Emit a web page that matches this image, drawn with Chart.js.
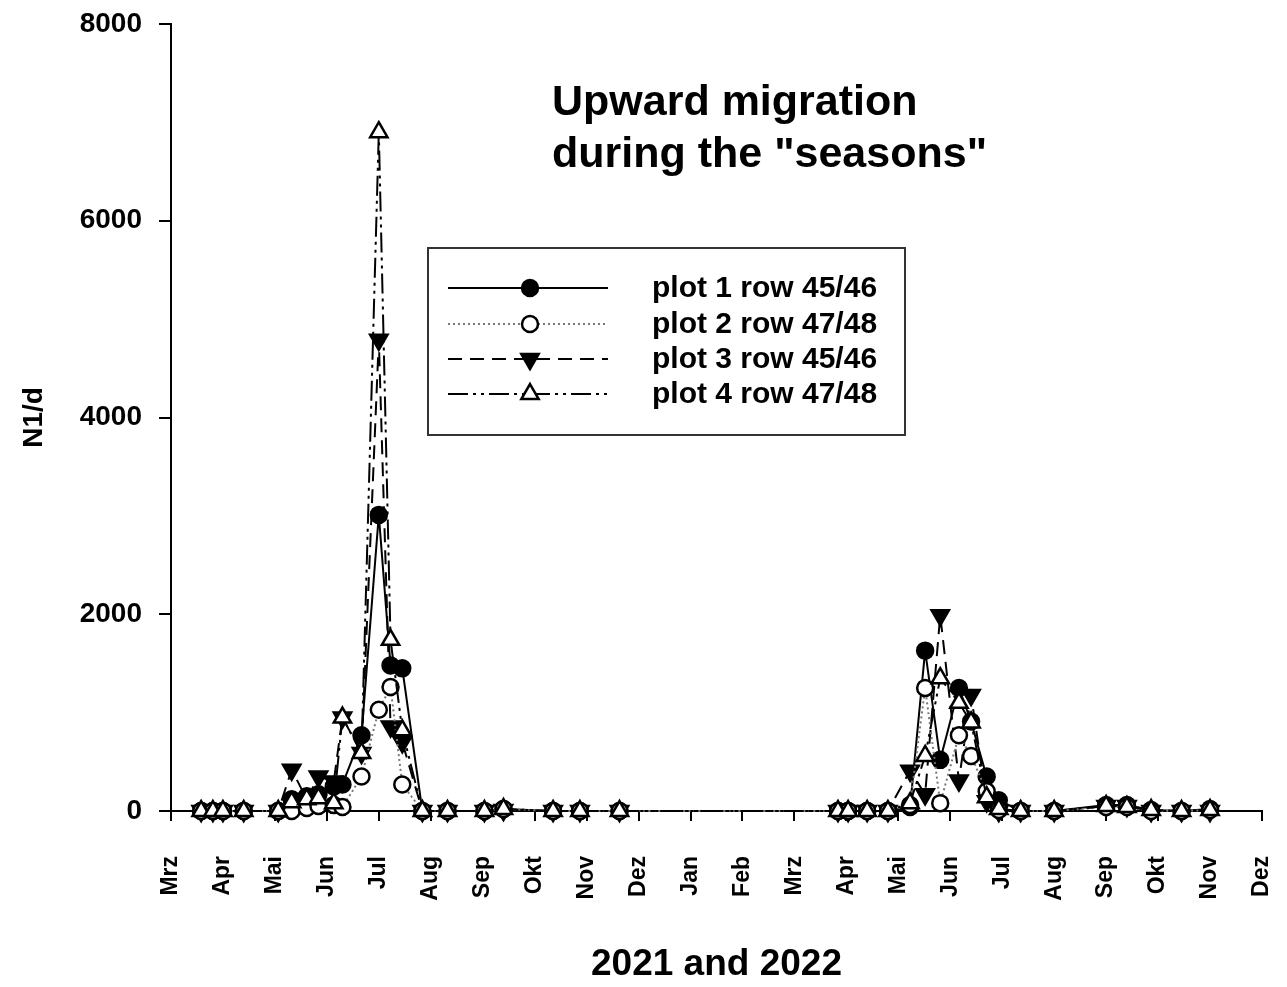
<!DOCTYPE html>
<html>
<head>
<meta charset="utf-8">
<title>Upward migration during the seasons</title>
<script src="https://cdn.jsdelivr.net/npm/chart.js@4.4.1/dist/chart.umd.min.js"></script>
<style>
  html, body { margin: 0; padding: 0; background: #fff; }
  #wrap { position: relative; width: 1287px; height: 987px; }
</style>
</head>
<body>
<div id="wrap"><canvas id="chart"></canvas></div>
<script>
'use strict';

// ── Data ────────────────────────────────────────────────────────────────
// One x tick per month, Mrz 2021 .. Dez 2022
const MONTH_LABELS = ['Mrz','Apr','Mai','Jun','Jul','Aug','Sep','Okt','Nov','Dez','Jan','Feb',
                      'Mrz','Apr','Mai','Jun','Jul','Aug','Sep','Okt','Nov','Dez'];
const Y_TICKS = [0, 2000, 4000, 6000, 8000];

const SERIES_LABELS = ['plot 1 row 45/46', 'plot 2 row 47/48', 'plot 3 row 45/46', 'plot 4 row 47/48'];

// sampling dates
const DATES_2021 = ['2021-03-19','2021-03-26','2021-04-01','2021-04-13','2021-05-03','2021-05-11',
                    '2021-05-20','2021-05-27','2021-06-05','2021-06-10','2021-06-21','2021-07-01',
                    '2021-07-08','2021-07-15','2021-07-27','2021-08-11','2021-09-02','2021-09-13',
                    '2021-10-12','2021-10-28','2021-11-20'];
const DATES_2022 = ['2022-03-27','2022-04-02','2022-04-13','2022-04-25','2022-05-08','2022-05-17',
                    '2022-05-26','2022-06-06','2022-06-13','2022-06-22','2022-06-29','2022-07-12',
                    '2022-08-01','2022-09-01','2022-09-13','2022-09-27','2022-10-15','2022-11-01'];

// N1/d per sampling date
const PLOT1_2021 = [0,0,0,0,0, 120,150,170,250,270, 770,3010,1480,1450, 0,0,0,20,0,0,0];
const PLOT2_2021 = [0,0,0,0,0, 0,30,50,60,40, 350,1030,1260,270, 0,0,0,20,0,0,0];
const PLOT3_2021 = [0,0,0,0,0, 420,120,350,300,950, 590,4790,860,700, 0,0,0,10,0,0,0];
const PLOT4_2021 = [0,0,0,0,0, 90,120,130,80,950, 590,6900,1740,820, 0,0,0,20,0,0,0];

const PLOT1_2022 = [0,0,0,0, 40,1630,520,1250,910,350,110, 0,0, 60,60,10,0,20];
const PLOT2_2022 = [0,0,0,0, 60,1250,80,770,560,200,10, 0,0, 40,40,0,0,10];
const PLOT3_2022 = [0,0,0,0, 410,170,1990,310,1180,100,0, 0,0, 50,50,0,0,0];
const PLOT4_2022 = [0,0,0,0, 80,560,1350,1100,900,140,20, 0,0, 50,40,10,0,10];

// ── Helpers ─────────────────────────────────────────────────────────────
const FONT = '"Liberation Sans", Arial, Helvetica, sans-serif';

// month position on the axis, 0 = 1 March 2021
function monthPos(iso) {
  const [y, m, d] = iso.split('-').map(Number);
  const dim = new Date(y, m, 0).getDate();
  return (y - 2021) * 12 + (m - 3) + (d - 1) / dim;
}

function points(dates, values) {
  return dates.map((d, i) => ({ x: monthPos(d), y: values[i] }));
}

const ALL_DATES = DATES_2021.concat(DATES_2022);

const STYLES = [
  { pointStyle: 'circle',   fill: '#000', line: '#000', dash: [],                  radius: 8,  rotation: 0,   order: 3 },
  { pointStyle: 'circle',   fill: '#fff', line: '#777', dash: [2, 3],              radius: 8,  rotation: 0,   order: 1 },
  { pointStyle: 'triangle', fill: '#000', line: '#000', dash: [14, 8],             radius: 10, rotation: 180, order: 2 },
  { pointStyle: 'triangle', fill: '#fff', line: '#000', dash: [20, 5, 3, 5, 3, 5], radius: 10, rotation: 0,   order: 0 },
];

const SERIES_VALUES = [
  PLOT1_2021.concat(PLOT1_2022),
  PLOT2_2021.concat(PLOT2_2022),
  PLOT3_2021.concat(PLOT3_2022),
  PLOT4_2021.concat(PLOT4_2022),
];

const datasets = SERIES_LABELS.map((label, i) => {
  const st = STYLES[i];
  return {
    label,
    data: points(ALL_DATES, SERIES_VALUES[i]),
    order: st.order,
    borderColor: st.line,
    borderWidth: 2,
    borderDash: st.dash,
    pointStyle: st.pointStyle,
    pointRadius: st.radius,
    pointRotation: st.rotation,
    pointBackgroundColor: st.fill,
    pointBorderColor: '#000',
    pointBorderWidth: 2.5,
    tension: 0,
    fill: false,
    clip: false,
  };
});

// ── Title text and boxed legend inside the plot area ────────────────────
const overlayPlugin = {
  id: 'overlay',
  afterDraw(chart) {
    const ctx = chart.ctx;
    ctx.save();

    ctx.fillStyle = '#000';
    ctx.textAlign = 'left';
    ctx.textBaseline = 'alphabetic';
    ctx.font = `bold 43px ${FONT}`;
    ctx.fillText('Upward migration', 552, 115);
    ctx.fillText('during the "seasons"', 552, 167);

    // legend box
    ctx.strokeStyle = '#333';
    ctx.lineWidth = 2;
    ctx.setLineDash([]);
    ctx.strokeRect(428, 248, 477, 187);

    const rows = [288, 324, 359, 394];
    SERIES_LABELS.forEach((label, i) => {
      const st = STYLES[i];
      const y = rows[i];
      ctx.strokeStyle = st.line;
      ctx.lineWidth = 2;
      ctx.setLineDash(st.dash);
      ctx.beginPath();
      ctx.moveTo(448, y);
      ctx.lineTo(608, y);
      ctx.stroke();
      ctx.setLineDash([]);

      ctx.fillStyle = st.fill;
      ctx.strokeStyle = '#000';
      ctx.lineWidth = 2.5;
      Chart.helpers.drawPoint(ctx, {
        pointStyle: st.pointStyle, radius: st.radius, rotation: st.rotation, borderWidth: 2.5
      }, 530, y);

      ctx.fillStyle = '#000';
      ctx.font = `bold 30px ${FONT}`;
      ctx.textBaseline = 'middle';
      ctx.fillText(label, 652, y + 1);
    });

    ctx.restore();
  }
};

// ── Chart ───────────────────────────────────────────────────────────────
new Chart(document.getElementById('chart').getContext('2d'), {
  type: 'line',
  data: { datasets },
  plugins: [overlayPlugin],
  options: {
    responsive: true,
    maintainAspectRatio: false,
    animation: false,
    layout: { padding: { top: 24, right: 25, left: 0, bottom: 0 } },
    plugins: { legend: { display: false }, tooltip: { enabled: false } },
    scales: {
      x: {
        type: 'linear',
        min: 0,
        max: MONTH_LABELS.length - 1,
        afterBuildTicks: s => { s.ticks = MONTH_LABELS.map((_, i) => ({ value: i })); },
        afterFit: s => { s.height = 176; s.paddingLeft = 0; s.paddingRight = 0; },
        border: { color: '#000', width: 2 },
        grid: { drawOnChartArea: false, drawTicks: true, tickLength: 10, color: '#000', lineWidth: 2 },
        ticks: {
          autoSkip: false, minRotation: 90, maxRotation: 90, padding: 35, color: '#000',
          font: { family: FONT, size: 23, weight: 'bold' },
          callback: v => MONTH_LABELS[v]
        },
        title: {
          display: true, text: '2021 and 2022', color: '#000',
          font: { family: FONT, size: 37, weight: 'bold' },
          padding: { top: 0, bottom: 0 }
        }
      },
      y: {
        min: Y_TICKS[0],
        max: Y_TICKS[Y_TICKS.length - 1],
        afterBuildTicks: s => { s.ticks = Y_TICKS.map(v => ({ value: v })); },
        afterFit: s => { s.width = 171; s.paddingTop = 0; s.paddingBottom = 0; },
        border: { color: '#000', width: 2 },
        grid: { drawOnChartArea: false, drawTicks: true, tickLength: 12, color: '#000', lineWidth: 2 },
        ticks: {
          padding: 17, color: '#000',
          font: { family: FONT, size: 28, weight: 'bold' },
          callback: v => String(v)
        },
        title: {
          display: true, text: 'N1/d', color: '#000',
          font: { family: FONT, size: 28, weight: 'bold' },
          padding: { top: 17, bottom: 0 }
        }
      }
    }
  }
});
</script>
</body>
</html>
